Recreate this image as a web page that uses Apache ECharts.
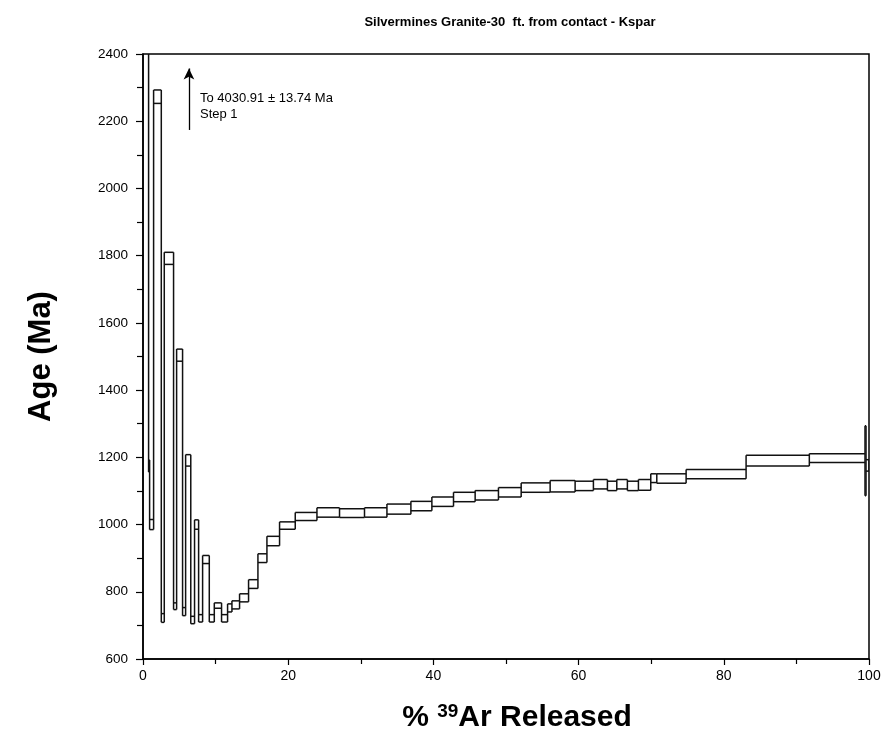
<!DOCTYPE html>
<html>
<head>
<meta charset="utf-8">
<script src="https://cdn.jsdelivr.net/npm/echarts@6/dist/echarts.min.js"></script>
<style>
  html, body { margin: 0; padding: 0; background: #fff; }
  #chart { width: 889px; height: 751px; }
</style>
</head>
<body>
<div id="chart"></div>
<script>
// cumulative % 39Ar at the end of each step
const cumPct = [
  0.77, 0.91, 1.46, 2.52, 2.93, 4.21, 4.63, 5.45, 5.87, 6.58,
  7.10, 7.66, 8.21, 9.13, 9.82, 10.82, 11.65, 12.25, 13.30, 14.54,
  15.83, 17.07, 18.81, 20.97, 23.96, 27.07, 30.51, 33.60, 36.90, 39.79,
  42.77, 45.75, 48.96, 52.09, 56.08, 59.52, 62.04, 63.97, 65.26, 66.72,
  68.24, 69.94, 70.77, 74.81, 83.07, 91.78, 99.45, 99.59, 100
];
// step ages (Ma)
const ages = [
  4030.91, 1174, 1000, 2273, 722, 1792, 757, 1504, 741, 1191,
  716, 1000, 721, 896, 721, 759, 721, 752, 761, 782,
  823, 900, 951, 997, 1024, 1036, 1034, 1036, 1046, 1055,
  1068, 1082, 1087, 1096, 1110, 1114, 1115, 1120, 1115, 1120,
  1115, 1118, 1138, 1137, 1150, 1190, 1198, 1190, 1176
];
// age errors (Ma)
const errs = [
  13.74, 18, 15, 20, 13, 18, 10, 18, 12, 17,
  11, 14, 11, 12, 11, 8, 11, 12, 12, 12,
  13, 13, 14, 11, 12, 14, 13, 14, 15, 14,
  14, 14, 14, 14, 14, 17, 14, 14, 14, 14,
  14, 16, 13, 14, 14, 16, 13, 104, 17
];
const xTicks = [0, 20, 40, 60, 80, 100];
const yTicks = [600, 800, 1000, 1200, 1400, 1600, 1800, 2000, 2200, 2400];

// arrow pointing to the off-scale first step
const arrowX = 6.33;
const arrowFrom = 2174;
const arrowTo = 2357;

const FONT = 'Arial, "Liberation Sans", sans-serif';

// one item per step: [start %, end %, low, high, prev low, prev high]
const steps = ages.map((a, i) => {
  const x0 = i === 0 ? 0 : cumPct[i - 1];
  const lo = a - errs[i], hi = a + errs[i];
  const pLo = i === 0 ? lo : ages[i - 1] - errs[i - 1];
  const pHi = i === 0 ? hi : ages[i - 1] + errs[i - 1];
  return [x0, cumPct[i], lo, hi, pLo, pHi];
});

function renderStep(params, api) {
  const x0 = api.value(0), x1 = api.value(1);
  const lo = api.value(2), hi = api.value(3);
  const pLo = api.value(4), pHi = api.value(5);
  const tl = api.coord([x0, hi]), tr = api.coord([x1, hi]);
  const bl = api.coord([x0, lo]), br = api.coord([x1, lo]);
  const vTop = api.coord([x0, Math.max(hi, pHi)]);
  const vBot = api.coord([x0, Math.min(lo, pLo)]);
  const style = { stroke: '#111', lineWidth: 1.5, fill: null };
  const kids = [
    { type: 'line', shape: { x1: tl[0], y1: tl[1], x2: tr[0], y2: tr[1] }, style },
    { type: 'line', shape: { x1: bl[0], y1: bl[1], x2: br[0], y2: br[1] }, style },
    { type: 'line', shape: { x1: vTop[0], y1: vTop[1], x2: vBot[0], y2: vBot[1] }, style }
  ];
  if (params.dataIndex === steps.length - 1) {
    kids.push({ type: 'line', shape: { x1: tr[0], y1: tr[1], x2: br[0], y2: br[1] }, style });
  }
  return { type: 'group', children: kids };
}

const chart = echarts.init(document.getElementById('chart'), null, { renderer: 'canvas' });

const option = {
  animation: false,
  backgroundColor: '#fff',
  title: {
    text: 'Silvermines Granite-30  ft. from contact - Kspar',
    left: 505,
    top: 11,
    textAlign: 'center',
    textStyle: { fontFamily: FONT, fontSize: 13, fontWeight: 'bold', color: '#000' }
  },
  grid: {
    left: 143,
    right: 20,
    top: 54,
    bottom: 92,
    show: true,
    borderColor: '#000',
    borderWidth: 1.5,
    backgroundColor: 'transparent'
  },
  xAxis: {
    type: 'value',
    min: xTicks[0],
    max: xTicks[xTicks.length - 1],
    interval: 20,
    name: '% {sup|39}Ar Released',
    nameLocation: 'middle',
    nameGap: 43,
    nameTextStyle: {
      fontFamily: FONT, fontSize: 30, fontWeight: 'bold', color: '#000',
      padding: [0, 0, 0, 22],
      rich: {
        sup: { fontFamily: FONT, fontSize: 19, fontWeight: 'bold', color: '#000', verticalAlign: 'top', padding: [0, 0, 13, 0] }
      }
    },
    axisLine: { lineStyle: { color: '#000', width: 1.5 } },
    axisTick: { length: 6, lineStyle: { color: '#000', width: 1.2 } },
    minorTick: { show: true, splitNumber: 2, length: 5, lineStyle: { color: '#000', width: 1.2 } },
    axisLabel: { fontFamily: FONT, fontSize: 14, color: '#000', margin: 10 },
    splitLine: { show: false }
  },
  yAxis: {
    type: 'value',
    min: yTicks[0],
    max: yTicks[yTicks.length - 1],
    interval: 200,
    name: 'Age (Ma)',
    nameLocation: 'middle',
    nameGap: 86,
    nameTextStyle: { fontFamily: FONT, fontSize: 31, fontWeight: 'bold', color: '#000' },
    axisLine: { show: true, lineStyle: { color: '#000', width: 1.5 } },
    axisTick: { length: 7, lineStyle: { color: '#000', width: 1.2 } },
    minorTick: { show: true, splitNumber: 2, length: 6, lineStyle: { color: '#000', width: 1.2 } },
    axisLabel: { fontFamily: FONT, fontSize: 13.5, color: '#000', margin: 15, formatter: (v) => String(v) },
    splitLine: { show: false }
  },
  series: [
    {
      type: 'custom',
      renderItem: renderStep,
      data: steps,
      clip: true,
      encode: { x: [0, 1], y: [2, 3] },
      silent: true
    },
    {
      type: 'line',
      data: [],
      silent: true,
      markLine: {
        silent: true,
        symbol: ['none', 'arrow'],
        symbolSize: [8, 11],
        label: { show: false },
        lineStyle: { color: '#000', width: 1.3, type: 'solid' },
        data: [[{ coord: [arrowX, arrowFrom] }, { coord: [arrowX, arrowTo] }]]
      }
    }
  ],
  graphic: [
    {
      type: 'text',
      left: 200,
      top: 90,
      style: {
        text: 'To 4030.91 ± 13.74 Ma\nStep 1',
        fontFamily: FONT,
        fontSize: 13,
        lineHeight: 16,
        fill: '#000'
      }
    }
  ]
};

chart.setOption(option);
</script>
</body>
</html>
